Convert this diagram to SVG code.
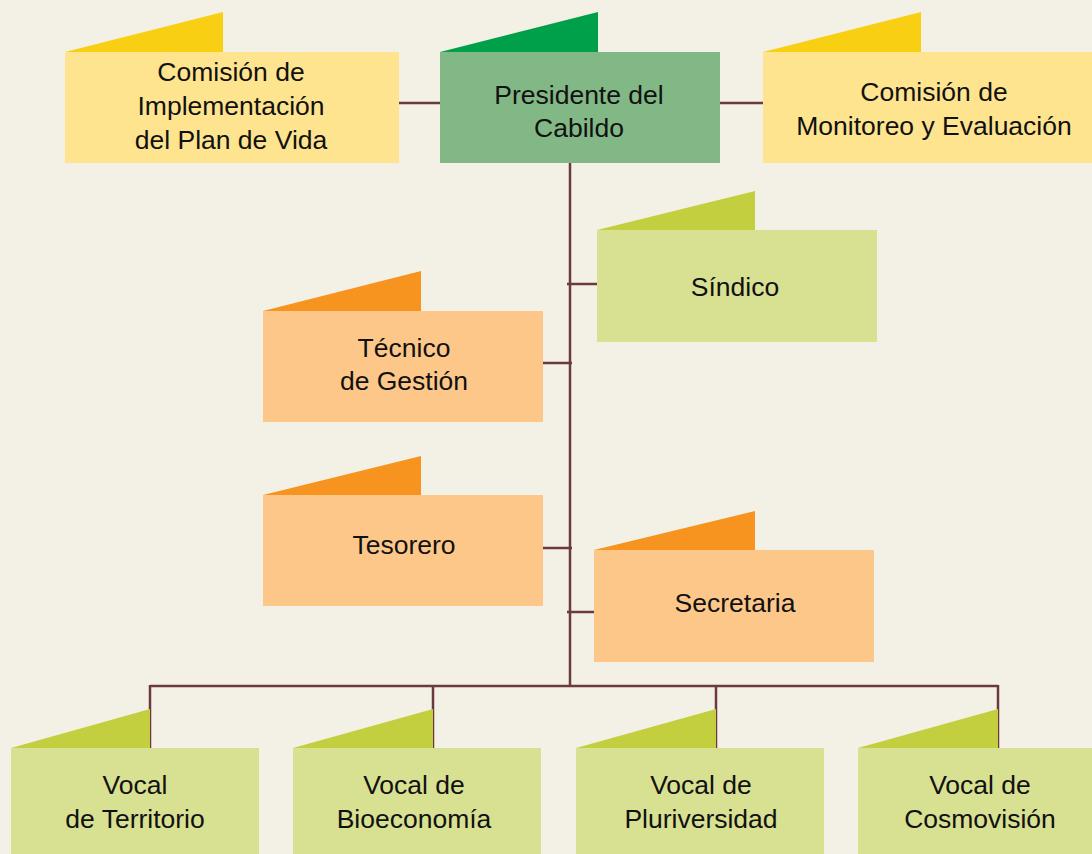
<svg xmlns="http://www.w3.org/2000/svg" width="1092" height="854" viewBox="0 0 1092 854">
<style>
text{font-family:"Liberation Sans",Arial,sans-serif;font-size:26.5px;fill:#111;text-anchor:middle}
.ln{stroke:#6b3a3e;stroke-width:2.5;fill:none}
.y{fill:#fee48f}.yt{fill:#f9cf14}
.g{fill:#82b886}.gt{fill:#00a04b}
.l{fill:#d8e092}.lt{fill:#c3cf3f}
.o{fill:#fec78a}.ot{fill:#f7931f}
</style>
<rect width="1092" height="854" fill="#f3f1e5"/>
<g id="connectors" class="ln">
<path d="M399 103H440M720 103H763"/>
<path d="M570 163V686"/>
<path d="M567 284H597M543 363H572M543 548H572M567 612H594"/>
<path d="M150 686H998M150 685V748M433 685V748M716 685V748M998 685V748"/>
</g>
<g id="comision-implementacion">
<polygon class="yt" points="65,52 223,12 223,52"/>
<rect class="y" x="65" y="52" width="334" height="111"/>
<text x="231" y="81">Comisión de</text>
<text x="231" y="115">Implementación</text>
<text x="231" y="149">del Plan de Vida</text>
</g>
<g id="presidente">
<polygon class="gt" points="440,52 598,12 598,52"/>
<rect class="g" x="440" y="52" width="280" height="111"/>
<text x="579" y="104">Presidente del</text>
<text x="579" y="137">Cabildo</text>
</g>
<g id="comision-monitoreo">
<polygon class="yt" points="763,52 921,12 921,52"/>
<rect class="y" x="763" y="52" width="340" height="111"/>
<text x="934" y="101">Comisión de</text>
<text x="934" y="135">Monitoreo y Evaluación</text>
</g>
<g id="sindico">
<polygon class="lt" points="597,230 755,191 755,230"/>
<rect class="l" x="597" y="230" width="280" height="112"/>
<text x="735" y="296">Síndico</text>
</g>
<g id="tecnico">
<polygon class="ot" points="263,311 421,271 421,311"/>
<rect class="o" x="263" y="311" width="280" height="111"/>
<text x="404" y="357">Técnico</text>
<text x="404" y="390">de Gestión</text>
</g>
<g id="tesorero">
<polygon class="ot" points="263,495 421,456 421,495"/>
<rect class="o" x="263" y="495" width="280" height="111"/>
<text x="404" y="554">Tesorero</text>
</g>
<g id="secretaria">
<polygon class="ot" points="594,550 755,511 755,550"/>
<rect class="o" x="594" y="550" width="280" height="112"/>
<text x="735" y="612">Secretaria</text>
</g>
<g id="vocal-territorio">
<polygon class="lt" points="11,748 150,709 150,748"/>
<rect class="l" x="11" y="748" width="248" height="110"/>
<text x="135" y="794">Vocal</text>
<text x="135" y="828">de Territorio</text>
</g>
<g id="vocal-bioeconomia">
<polygon class="lt" points="293,748 433,709 433,748"/>
<rect class="l" x="293" y="748" width="248" height="110"/>
<text x="414" y="794">Vocal de</text>
<text x="414" y="828">Bioeconomía</text>
</g>
<g id="vocal-pluriversidad">
<polygon class="lt" points="576,748 716,709 716,748"/>
<rect class="l" x="576" y="748" width="248" height="110"/>
<text x="701" y="794">Vocal de</text>
<text x="701" y="828">Pluriversidad</text>
</g>
<g id="vocal-cosmovision">
<polygon class="lt" points="858,748 998,709 998,748"/>
<rect class="l" x="858" y="748" width="248" height="110"/>
<text x="980" y="794">Vocal de</text>
<text x="980" y="828">Cosmovisión</text>
</g>
</svg>
